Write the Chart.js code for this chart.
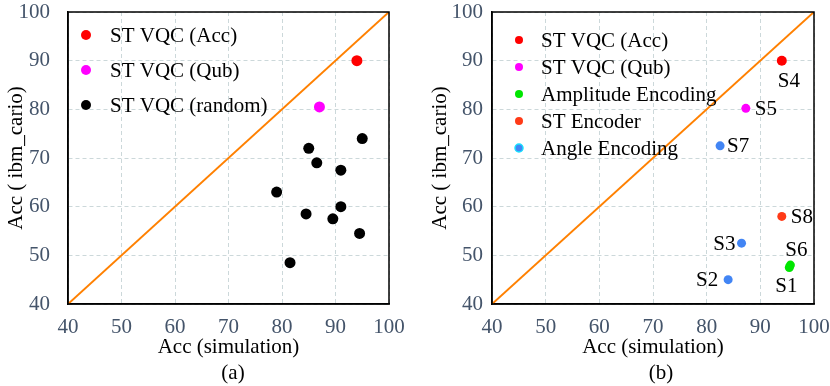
<!DOCTYPE html>
<html><head><meta charset="utf-8">
<script src="https://cdn.jsdelivr.net/npm/chart.js@4.4.1/dist/chart.umd.min.js"></script>
<style>
html,body{margin:0;padding:0;background:#fff;}
#wrap{position:relative;width:830px;height:386px;overflow:hidden;background:#fff;}
.pane{position:absolute;top:0;width:415px;height:386px;}
canvas{display:block;}
.cap{position:absolute;font-family:"Liberation Serif","Times New Roman",serif;font-size:21px;color:#000;transform:translate(-50%,-50%);white-space:nowrap;line-height:1;}
</style></head><body>
<div id="wrap">
<div class="pane" style="left:0"><canvas id="ca" width="415" height="386"></canvas></div>
<div class="pane" style="left:415px"><canvas id="cb" width="415" height="386"></canvas></div>
<div class="cap" style="left:233px;top:372px">(a)</div>
<div class="cap" style="left:661px;top:372px">(b)</div>
</div>
<script>
// ---------- data ----------
const axisTicks = [40, 50, 60, 70, 80, 90, 100];
const diagonal = [40, 100];
const xTitle = 'Acc (simulation)';
const yTitle = 'Acc ( ibm_cario)';

// chart (a)
const accSimA = [94], accIbmA = [90];
const qubSimA = [87], qubIbmA = [80.5];
const randSimA = [95, 85, 86.5, 91, 79, 91, 84.5, 89.5, 94.5, 81.5];
const randIbmA = [74, 72, 69, 67.5, 63, 60, 58.5, 57.5, 54.5, 48.5];

// chart (b)
const accSimB = [94],   accIbmB = [90],   accNamesB = ['S4'];
const qubSimB = [87.3], qubIbmB = [80.2], qubNamesB = ['S5'];
const ampSim = [95.4, 95.6], ampIbm = [47.5, 48.0], ampNames = ['S1', 'S6'];
const encSim = [94], encIbm = [58], encNames = ['S8'];
const angSim = [84, 86.5, 82.5], angIbm = [45, 52.5, 72.5], angNames = ['S2', 'S3', 'S7'];

// ---------- styles ----------
const FONT = '"Liberation Serif", "Times New Roman", serif';
const tickColor = '#44546a';
const gridColor = '#ccd8da';
const labelPlacement = { // dx, dy, align
  S1: [-3, 18, 'center'], S2: [-10, 0, 'right'], S3: [-6, 0, 'right'], S4: [7, 20, 'center'],
  S5: [9, 0, 'left'], S6: [6, -16, 'center'], S7: [7, 0, 'left'], S8: [9, 0, 'left']
};

const pts = (xs, ys) => xs.map((x, i) => ({ x: x, y: ys[i] }));

const framePlugin = {
  id: 'frame',
  afterDraw(chart) {
    const a = chart.chartArea, c = chart.ctx;
    c.save();
    c.strokeStyle = '#000'; c.lineWidth = 1.5;
    c.strokeRect(a.left, a.top, a.right - a.left, a.bottom - a.top);
    c.restore();
  }
};

const legendPlugin = {
  id: 'miniLegend',
  afterDraw(chart, args, o) {
    const c = chart.ctx;
    c.save();
    c.font = '21px ' + FONT;
    c.textBaseline = 'middle';
    c.textAlign = 'left';
    let i = 0;
    chart.data.datasets.forEach(ds => {
      if (ds.noLegend) return;
      const y = o.y0 + i * o.dy;
      c.beginPath();
      c.arc(o.x, y, o.r, 0, Math.PI * 2);
      c.fillStyle = ds.backgroundColor;
      c.fill();
      if (ds.legendRing) {
        c.lineWidth = 1.5; c.strokeStyle = ds.legendRing; c.stroke();
      }
      c.fillStyle = '#000';
      c.fillText(ds.label, o.textX, y + 1);
      i++;
    });
    c.restore();
  }
};

const pointLabelPlugin = {
  id: 'pointLabels',
  afterDatasetsDraw(chart) {
    const c = chart.ctx;
    c.save();
    c.font = '21px ' + FONT;
    c.fillStyle = '#000';
    c.textBaseline = 'middle';
    chart.data.datasets.forEach((ds, di) => {
      if (!ds.names) return;
      const meta = chart.getDatasetMeta(di);
      meta.data.forEach((el, i) => {
        const p = labelPlacement[ds.names[i]] || [8, 0, 'left'];
        c.textAlign = p[2];
        c.fillText(ds.names[i], el.x + p[0], el.y + p[1] + 1);
      });
    });
    c.restore();
  }
};

function makeScales(yWidth, yTickPad, yTitlePad) {
  return {
    x: {
      type: 'linear', min: 40, max: 100,
      afterBuildTicks(s) { s.ticks = axisTicks.map(v => ({ value: v })); },
      ticks: { padding: 11, color: tickColor, font: { family: FONT, size: 21 }, maxRotation: 0 },
      grid: { color: gridColor, lineWidth: 1, drawTicks: false },
      border: { display: true, color: '#000', width: 1.5, dash: [4, 3] },
      title: { display: true, text: xTitle, color: '#000', font: { family: FONT, size: 21 }, padding: { top: 0, bottom: 26 } },
      afterFit(s) { s.height = 82; s.paddingLeft = 0; s.paddingRight = 0; }
    },
    y: {
      type: 'linear', min: 40, max: 100,
      afterBuildTicks(s) { s.ticks = axisTicks.map(v => ({ value: v })); },
      ticks: { padding: yTickPad, color: tickColor, font: { family: FONT, size: 21 } },
      grid: { color: gridColor, lineWidth: 1, drawTicks: false },
      border: { display: true, color: '#000', width: 1.5, dash: [4, 3] },
      title: { display: true, text: yTitle, color: '#000', font: { family: FONT, size: 21 }, padding: { top: yTitlePad, bottom: 0 } },
      afterFit(s) { s.width = yWidth; s.paddingTop = 0; s.paddingBottom = 0; }
    }
  };
}

const diagDataset = {
  type: 'line', label: 'diag', noLegend: true,
  data: diagonal.map(v => ({ x: v, y: v })),
  borderColor: '#ff8000', borderWidth: 2, pointRadius: 0, fill: false, order: 5
};

// chart (a)
new Chart(document.getElementById('ca'), {
  type: 'scatter',
  data: {
    datasets: [
      { label: 'ST VQC (Acc)', data: pts(accSimA, accIbmA), backgroundColor: '#ff0000', borderWidth: 0, pointRadius: 5.5 },
      { label: 'ST VQC (Qub)', data: pts(qubSimA, qubIbmA), backgroundColor: '#ff00ff', borderWidth: 0, pointRadius: 5.5 },
      { label: 'ST VQC (random)', data: pts(randSimA, randIbmA), backgroundColor: '#000000', borderWidth: 0, pointRadius: 5.5 },
      Object.assign({}, diagDataset)
    ]
  },
  options: {
    responsive: false, animation: false, devicePixelRatio: 1,
    layout: { padding: { top: 12, right: 26, left: 0, bottom: 0 } },
    scales: makeScales(68, 18, 4),
    plugins: {
      legend: { display: false }, tooltip: { enabled: false },
      miniLegend: { x: 86, textX: 110, y0: 35, dy: 35, r: 5 }
    }
  },
  plugins: [framePlugin, legendPlugin]
});

// chart (b)
new Chart(document.getElementById('cb'), {
  type: 'scatter',
  data: {
    datasets: [
      { label: 'ST VQC (Acc)', data: pts(accSimB, accIbmB), names: accNamesB, backgroundColor: '#ff0000', borderWidth: 0, pointRadius: 5 },
      { label: 'ST VQC (Qub)', data: pts(qubSimB, qubIbmB), names: qubNamesB, backgroundColor: '#ff00ff', borderWidth: 0, pointRadius: 4.5 },
      { label: 'Amplitude Encoding', data: pts(ampSim, ampIbm), names: ampNames, backgroundColor: '#00e600', borderWidth: 0, pointRadius: 4.5 },
      { label: 'ST Encoder', data: pts(encSim, encIbm), names: encNames, backgroundColor: '#ff3a17', borderWidth: 0, pointRadius: 4.5 },
      { label: 'Angle Encoding', data: pts(angSim, angIbm), names: angNames, backgroundColor: '#4285f4', legendRing: '#18e0ff', borderWidth: 0, pointRadius: 4.5 },
      Object.assign({}, diagDataset)
    ]
  },
  options: {
    responsive: false, animation: false, devicePixelRatio: 1,
    layout: { padding: { top: 12, right: 16, left: 0, bottom: 0 } },
    scales: makeScales(77, 9, 13),
    plugins: {
      legend: { display: false }, tooltip: { enabled: false },
      miniLegend: { x: 104, textX: 126, y0: 40, dy: 27, r: 4 }
    }
  },
  plugins: [framePlugin, legendPlugin, pointLabelPlugin]
});
</script>
</body></html>
